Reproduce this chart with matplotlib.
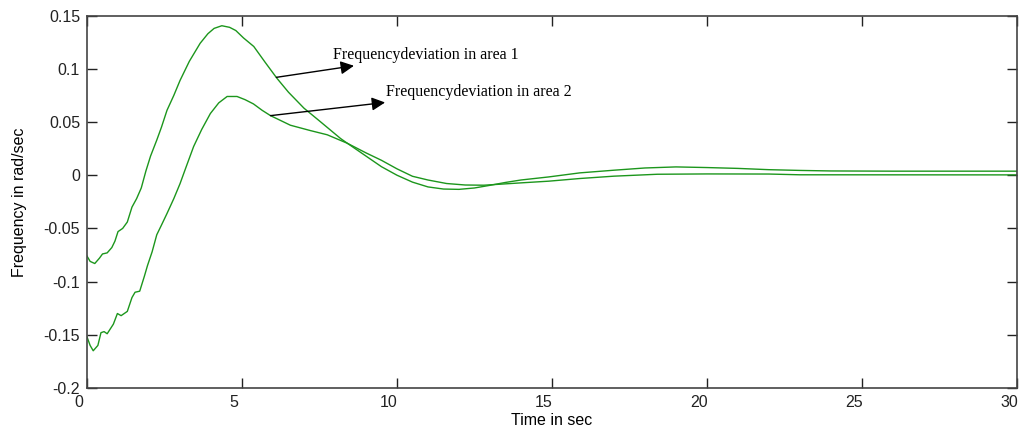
#Frequency deviation in both areas after load disturbance

import numpy as np
import matplotlib
matplotlib.use("Agg")
import matplotlib.pyplot as plt
import matplotlib.transforms as mtransforms

# Data (time in sec, deviation in rad/sec)
t_area1 = [0, 0.1, 0.25, 0.4, 0.5, 0.65, 0.8, 0.9, 1.0, 1.15, 1.3, 1.45, 1.6, 1.75, 1.9,
           2.05, 2.25, 2.4, 2.58, 2.8, 3.0, 3.3, 3.65, 3.9, 4.1, 4.35, 4.6, 4.8, 5.05, 5.38,
           5.75, 6.13, 6.5, 7.0, 7.5, 8.18, 8.4, 9.0, 9.5, 10.0, 10.5, 11.0, 11.5, 12.0,
           12.5, 13.0, 13.5, 14.0, 14.9, 15.9, 17.0, 18.0, 19.0, 20.0, 21.0, 22.0, 23.0,
           24.0, 26.0, 30.0]
f_area1 = [-0.076, -0.081, -0.083, -0.078, -0.074, -0.073, -0.068, -0.062, -0.053, -0.050,
           -0.044, -0.030, -0.022, -0.012, 0.004, 0.018, 0.033, 0.045, 0.061, 0.075, 0.089,
           0.107, 0.124, 0.133, 0.138, 0.1405, 0.139, 0.136, 0.129, 0.121, 0.106, 0.091,
           0.078, 0.063, 0.051, 0.0345, 0.030, 0.018, 0.008, 0.0, -0.0065, -0.011, -0.013,
           -0.0133, -0.012, -0.0095, -0.0068, -0.0045, -0.0016, 0.0022, 0.0047, 0.0068,
           0.0078, 0.0072, 0.0064, 0.0052, 0.0045, 0.0040, 0.0038, 0.0038]

t_area2 = [0, 0.1, 0.2, 0.35, 0.45, 0.55, 0.65, 0.85, 0.98, 1.1, 1.3, 1.45, 1.55, 1.7, 1.85,
           1.95, 2.1, 2.25, 2.4, 2.58, 2.8, 3.0, 3.2, 3.44, 3.7, 3.98, 4.25, 4.52, 4.84, 5.1,
           5.37, 5.65, 5.92, 6.56, 7.2, 7.75, 8.4, 9.0, 9.5, 10.0, 10.5, 11.0, 11.6, 12.2,
           12.8, 13.3, 14.0, 14.9, 15.9, 17.0, 18.4, 20.0, 22.0, 23.0, 30.0]
f_area2 = [-0.152, -0.160, -0.165, -0.160, -0.148, -0.147, -0.149, -0.140, -0.130, -0.132,
           -0.128, -0.115, -0.110, -0.109, -0.095, -0.085, -0.072, -0.056, -0.047, -0.036,
           -0.022, -0.008, 0.008, 0.027, 0.043, 0.058, 0.068, 0.074, 0.074, 0.071, 0.067,
           0.061, 0.056, 0.047, 0.042, 0.038, 0.030, 0.021, 0.014, 0.006, -0.001, -0.0045,
           -0.0078, -0.0092, -0.0094, -0.0085, -0.0072, -0.0056, -0.0031, -0.0009, 0.0009,
           0.0012, 0.0011, 0.0004, 0.0003]

xticks = [0, 5, 10, 15, 20, 25, 30]
yticks = [-0.2, -0.15, -0.1, -0.05, 0, 0.05, 0.1, 0.15]
ytick_labels = ["-0.2", "-0.15", "-0.1", "-0.05", "0", "0.05", "0.1", "0.15"]

plt.rcParams['font.family'] = ['Liberation Sans', 'DejaVu Sans']

fig = plt.figure(figsize=(10.19, 4.34), dpi=100)
ax = fig.add_axes([0.0854, 0.106, 0.9125, 0.858])

ax.plot(t_area1, f_area1, color="#1c961c", linewidth=1.0)
ax.plot(t_area2, f_area2, color="#1c961c", linewidth=1.0)

ax.set_xlim(0, 30)
ax.set_ylim(-0.2, 0.15)
ax.set_xticks(xticks)
ax.set_xticklabels([str(v) for v in xticks])
ax.set_yticks(yticks)
ax.set_yticklabels(ytick_labels)
ax.tick_params(direction="in", length=7, width=1, top=True, right=True,
               labelsize=11.5, pad=5, colors="#222222")
for s in ax.spines.values():
    s.set_color("#444444")
    s.set_linewidth(1.2)

# x tick labels sit a little left of their ticks
shift = mtransforms.ScaledTranslation(-8 / 100, 0, fig.dpi_scale_trans)
for lab in ax.get_xticklabels():
    lab.set_transform(lab.get_transform() + shift)

ax.set_xlabel("Time in sec", fontsize=11.5, labelpad=2)
ax.set_ylabel("Frequency in rad/sec", fontsize=11.5, labelpad=12)

# annotations
serif = ["Liberation Serif", "DejaVu Serif"]
ax.annotate("Frequencydeviation in area 1", xy=(6.11, 0.092), xytext=(7.95, 0.113),
            fontsize=11.5, family=serif, va="center",
            arrowprops=dict(arrowstyle="<|-", color="black", lw=1.0, mutation_scale=20,
                            shrinkA=0, shrinkB=0))
ax.annotate("Frequencydeviation in area 2", xy=(5.92, 0.056), xytext=(9.65, 0.0785),
            fontsize=11.5, family=serif, va="center",
            arrowprops=dict(arrowstyle="<|-", color="black", lw=1.0, mutation_scale=20,
                            shrinkA=0, shrinkB=0))

plt.savefig("out.png", dpi=100)
